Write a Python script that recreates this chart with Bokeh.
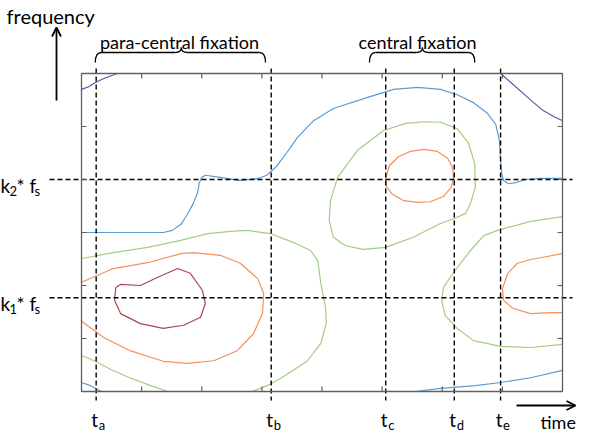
from bokeh.plotting import figure
from bokeh.models import Range1d, Arrow, OpenHead
from bokeh.core.properties import value
from bokeh.embed import file_html
from bokeh.resources import INLINE

# ---------------- data (time units 0..8, frequency units 0..6) ----------------
t_names = ["a", "b", "c", "d", "e"]
t_pos = [0.244, 3.155, 5.06, 6.20, 6.97]
k_names = ["2", "1"]
k_pos = [4.0, 1.77]
x_ticks = [1, 2, 3, 4, 5, 6, 7]
y_ticks = [1, 2, 3, 4, 5]
brace_labels = ["para-central fixation", "central fixation"]
brace_start = [0.23, 4.79]
brace_end = [3.06, 6.54]
brace_tip = [1.66, 5.67]

purple_a_x = [0, 0.12, 0.23, 0.40, 0.60]
purple_a_y = [5.70, 5.75, 5.83, 5.92, 6.0]
purple_b_x = [6.97, 7.15, 7.35, 7.52, 7.68, 7.85, 8.0]
purple_b_y = [6.0, 5.82, 5.62, 5.45, 5.30, 5.19, 5.11]

blue_a_x = [0, 0.65, 1.36, 1.51, 1.65, 1.75, 1.86, 1.93, 1.96, 2.0, 2.06, 2.31, 2.64, 2.94, 3.08,
            3.23, 3.36, 3.59, 3.86, 4.19, 4.76, 5.19, 5.59, 5.97, 6.25, 6.52, 6.75, 6.89, 6.95,
            6.97, 6.99, 7.02, 7.10, 7.22, 7.38, 7.63, 8.0]
blue_a_y = [3.0, 3.0, 3.0, 3.04, 3.15, 3.32, 3.55, 3.75, 3.94, 4.04, 4.08, 4.04, 3.98, 4.02, 4.08,
            4.23, 4.42, 4.79, 5.11, 5.34, 5.55, 5.70, 5.74, 5.70, 5.60, 5.45, 5.25, 5.04, 4.74,
            4.36, 4.11, 3.98, 3.92, 3.94, 4.0, 4.02, 4.02]
blue_b_x = [0, 0.15, 0.33]
blue_b_y = [0.17, 0.11, 0]
blue_c_x = [5.56, 5.97, 6.55, 6.97, 7.47, 8.0]
blue_c_y = [0, 0.06, 0.11, 0.17, 0.26, 0.40]

green_a_x = [0, 0.53, 1.10, 1.65, 2.10, 2.48, 2.76, 3.14, 3.53, 3.81, 3.93, 3.98, 4.06, 4.07,
             3.98, 3.76, 3.56, 3.33, 3.09, 2.83]
green_a_y = [2.51, 2.62, 2.72, 2.85, 2.98, 3.02, 3.04, 2.98, 2.81, 2.66, 2.47, 2.04, 1.58, 1.28,
             0.91, 0.58, 0.43, 0.26, 0.11, 0]
green_b_x = [0, 0.23, 0.48, 0.80, 1.15, 1.43]
green_b_y = [0.68, 0.57, 0.42, 0.26, 0.11, 0]
green_c_x = [5.69, 5.97, 6.25, 6.44, 6.54, 6.55, 6.47, 6.39, 6.19, 5.97, 5.52, 5.06, 4.69, 4.39,
             4.19, 4.12, 4.14, 4.26, 4.59, 5.02, 5.39, 5.69]
green_c_y = [5.09, 5.08, 4.96, 4.68, 4.30, 3.85, 3.55, 3.36, 3.26, 3.17, 2.91, 2.72, 2.68, 2.75,
             2.91, 3.23, 3.60, 4.04, 4.55, 4.92, 5.06, 5.09]
green_d_x = [8, 7.47, 6.92, 6.69, 6.47, 6.19, 6.02, 5.99, 6.05, 6.25, 6.52, 6.97, 7.47, 8]
green_d_y = [3.30, 3.21, 3.04, 2.94, 2.66, 2.25, 1.96, 1.72, 1.43, 1.19, 0.96, 0.85, 0.83, 0.89]

orange_a_x = [0, 0.53, 1.10, 1.65, 1.86, 2.31, 2.64, 2.93, 3.03, 3.01, 2.86, 2.59, 2.20, 1.76,
              1.36, 0.81, 0.37, 0.03, 0]
orange_a_y = [2.06, 2.32, 2.43, 2.60, 2.62, 2.57, 2.42, 2.13, 1.85, 1.47, 1.09, 0.77, 0.58, 0.53,
              0.57, 0.77, 1.02, 1.30, 1.34]
orange_b_x = [5.06, 5.12, 5.27, 5.47, 5.69, 5.92, 6.09, 6.17, 6.19, 6.15, 6.02, 5.80, 5.59, 5.36,
              5.17, 5.07, 5.06]
orange_b_y = [4.02, 4.26, 4.43, 4.53, 4.57, 4.53, 4.40, 4.23, 4.04, 3.85, 3.68, 3.58, 3.57, 3.60,
              3.72, 3.87, 4.02]
orange_c_x = [8, 7.47, 7.25, 7.09, 7.0, 7.02, 7.17, 7.47, 7.80, 8]
orange_c_y = [2.60, 2.49, 2.42, 2.23, 1.94, 1.72, 1.57, 1.47, 1.49, 1.49]

red_x = [0.57, 0.65, 0.98, 1.26, 1.60, 1.81, 2.01, 2.06, 1.98, 1.70, 1.36, 0.98, 0.65, 0.55, 0.57]
red_y = [1.96, 2.02, 2.0, 2.15, 2.32, 2.23, 1.91, 1.66, 1.40, 1.25, 1.19, 1.28, 1.47, 1.72, 1.96]

# ---------------- layout ----------------
W, H = 592, 432
BOX_L, BOX_R, BOX_T, BOX_B = 81, 562, 73, 391
sx = (BOX_R - BOX_L) / 8.0
sy = (BOX_B - BOX_T) / 6.0


def dx(px):
    return (px - BOX_L) / sx


def dy(py):
    return (BOX_B - py) / sy


p = figure(width=W, height=H, output_backend="svg", toolbar_location=None,
           x_axis_type=None, y_axis_type=None, min_border=0,
           x_range=Range1d(dx(0), dx(W)), y_range=Range1d(dy(H), dy(0)))
p.outline_line_color = None
p.grid.visible = False
p.background_fill_color = "white"
p.border_fill_color = "white"

FONT = value("Lato")

# contours
LW = 1.2
cont = [
    (purple_a_x, purple_a_y, "#5E55A6"), (purple_b_x, purple_b_y, "#5E55A6"),
    (blue_a_x, blue_a_y, "#5B9BD5"), (blue_b_x, blue_b_y, "#5B9BD5"), (blue_c_x, blue_c_y, "#5B9BD5"),
    (green_a_x, green_a_y, "#A3CD82"), (green_b_x, green_b_y, "#A3CD82"),
    (green_c_x, green_c_y, "#A3CD82"), (green_d_x, green_d_y, "#A3CD82"),
    (orange_a_x, orange_a_y, "#F4915A"), (orange_b_x, orange_b_y, "#F4915A"),
    (orange_c_x, orange_c_y, "#F4915A"),
    (red_x, red_y, "#A9474F"),
]
for xs, ys, c in cont:
    p.line(xs, ys, line_color=c, line_width=LW, line_join="round")

# dashed guide lines
p.segment(x0=t_pos, x1=t_pos, y0=[dy(68)] * len(t_pos), y1=[dy(400)] * len(t_pos),
          line_color="black", line_width=1.4, line_dash="5 3")
p.segment(x0=[dx(49)] * len(k_pos), x1=[dx(572)] * len(k_pos), y0=k_pos, y1=k_pos,
          line_color="black", line_width=1.4, line_dash="5 3")

# box and inward ticks
p.quad(left=[0], right=[8], bottom=[0], top=[6], fill_color=None, line_color="#606060", line_width=1.3)
tl_y = 5 / sy
tl_x = 5 / sx
p.segment(x0=x_ticks, x1=x_ticks, y0=[6] * 7, y1=[6 - tl_y] * 7, line_color="#606060", line_width=1.2)
p.segment(x0=x_ticks, x1=x_ticks, y0=[0] * 7, y1=[tl_y] * 7, line_color="#606060", line_width=1.2)
p.segment(x0=[0] * 5, x1=[tl_x] * 5, y0=y_ticks, y1=y_ticks, line_color="#606060", line_width=1.2)
p.segment(x0=[8] * 5, x1=[8 - tl_x] * 5, y0=y_ticks, y1=y_ticks, line_color="#606060", line_width=1.2)

# braces
y_end, y_mid, y_tip = dy(62), dy(52), dy(47)
rx = 6 / sx
for s, e, m in zip(brace_start, brace_end, brace_tip):
    p.quadratic(x0=[s, m - rx, m, e - rx], y0=[y_end, y_mid, y_tip, y_mid],
                x1=[s + rx, m, m + rx, e], y1=[y_mid, y_tip, y_mid, y_end],
                cx=[s, m, m, e], cy=[y_mid, y_mid, y_mid, y_mid],
                line_color="black", line_width=1.3)
    p.segment(x0=[s + rx, m + rx], x1=[m - rx, e - rx], y0=[y_mid, y_mid], y1=[y_mid, y_mid],
              line_color="black", line_width=1.3)
p.text(x=[dx(179), dx(417)], y=[dy(41)] * 2, text=brace_labels,
       text_font=FONT, text_font_size="18px", text_align="center", text_baseline="alphabetic",
       text_color="black")

# t labels
p.text(x=[t - 1.5 / sx for t in t_pos], y=[dy(419)] * 5, text=["t"] * 5, text_font=FONT,
       text_font_size="19px", text_align="center", text_baseline="alphabetic", text_color="black")
p.text(x=[t + 2.5 / sx for t in t_pos], y=[dy(424)] * 5, text=t_names, text_font=FONT,
       text_font_size="13px", text_align="left", text_baseline="alphabetic", text_color="black")

# k labels
p.text(x=[dx(0)] * 2, y=[k - 6 / sy for k in k_pos], text=["k"] * 2, text_font=FONT,
       text_font_size="19px", text_align="left", text_baseline="alphabetic", text_color="black")
p.text(x=[dx(9)] * 2, y=[k - 11 / sy for k in k_pos], text=k_names, text_font=FONT,
       text_font_size="13px", text_align="left", text_baseline="alphabetic", text_color="black")
p.text(x=[dx(16)] * 2, y=[k - 6 / sy for k in k_pos], text=["* f"] * 2, text_font=FONT,
       text_font_size="19px", text_align="left", text_baseline="alphabetic", text_color="black")
p.text(x=[dx(34)] * 2, y=[k - 11 / sy for k in k_pos], text=["s"] * 2, text_font=FONT,
       text_font_size="13px", text_align="left", text_baseline="alphabetic", text_color="black")

# axis titles
p.text(x=[dx(6)], y=[dy(15)], text=["frequency"], text_font=FONT, text_font_size="20px",
       text_align="left", text_baseline="alphabetic", text_color="black")
p.text(x=[dx(540)], y=[dy(421)], text=["time"], text_font=FONT, text_font_size="18px",
       text_align="left", text_baseline="alphabetic", text_color="black")

# arrows
p.add_layout(Arrow(end=OpenHead(size=9, line_width=1.8, line_color="black"),
                   x_start=dx(56), y_start=dy(100), x_end=dx(56), y_end=dy(27),
                   line_width=1.8, line_color="black"))
p.add_layout(Arrow(end=OpenHead(size=9, line_width=1.8, line_color="black"),
                   x_start=dx(516), y_start=dy(405), x_end=dx(575), y_end=dy(405),
                   line_width=1.8, line_color="black"))

open("out.html", "w").write(file_html(p, INLINE))
